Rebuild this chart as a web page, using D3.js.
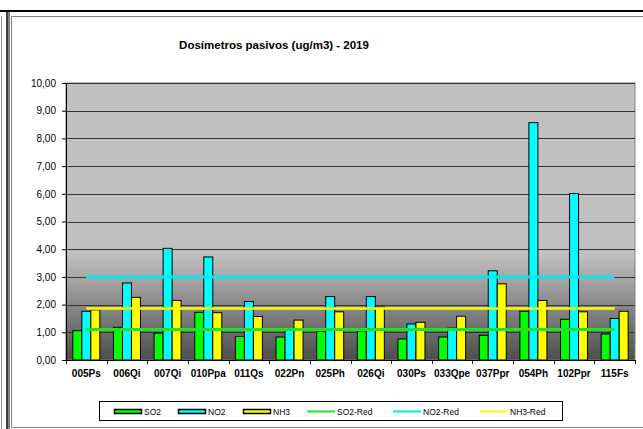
<!DOCTYPE html>
<html>
<head>
<meta charset="utf-8">
<style>
    html, body { margin: 0; background: #fff; overflow: hidden; }
    svg { display: block; font-family: Arial, "Liberation Sans", sans-serif; }
</style>
</head>
<body>
<script src="https://d3js.org/d3.v7.min.js"></script>
<div id="chart"></div>
<script>
    var categories = ["005Ps", "006Qi", "007Qi", "010Ppa", "011Qs", "022Pn", "025Ph", "026Qi", "030Ps", "033Qpe", "037Ppr", "054Ph", "102Ppr", "115Fs"];
    var so2 = [1.06, 1.18, 0.97, 1.72, 0.85, 0.83, 1.04, 1.05, 0.76, 0.83, 0.89, 1.76, 1.47, 0.94];
    var no2 = [1.76, 2.78, 4.03, 3.72, 2.11, 1.11, 2.29, 2.29, 1.30, 1.15, 3.22, 8.57, 6.01, 1.50];
    var nh3 = [1.81, 2.26, 2.15, 1.71, 1.57, 1.44, 1.74, 1.91, 1.36, 1.58, 2.75, 2.15, 1.74, 1.76];
    var so2Red = 1.1;
    var no2Red = 3.0;
    var nh3Red = 1.86;
    var yTicks = [0, 1, 2, 3, 4, 5, 6, 7, 8, 9, 10];
    var title = "Dosímetros pasivos (ug/m3) - 2019";

    var W = 643, H = 429;
    var margin = { top: 83, right: 8, bottom: 69, left: 66 },
        width = W - margin.left - margin.right,
        height = H - margin.top - margin.bottom;

    var svg0 = d3.select("#chart").append("svg")
        .attr("width", W)
        .attr("height", H);

    // outer frames
    svg0.append("line").attr("x1", 0).attr("x2", W).attr("y1", 11).attr("y2", 11)
        .attr("stroke", "#000").attr("stroke-width", 2);
    svg0.append("line").attr("x1", 7).attr("x2", 7).attr("y1", 10).attr("y2", H)
        .attr("stroke", "#000").attr("stroke-width", 1.5);
    svg0.append("line").attr("x1", 9).attr("x2", 9).attr("y1", 10).attr("y2", H)
        .attr("stroke", "#000").attr("stroke-width", 1);
    svg0.append("line").attr("x1", 1.5).attr("x2", 1.5).attr("y1", 16).attr("y2", H)
        .attr("stroke", "#999").attr("stroke-width", 1);
    svg0.append("path")
        .attr("d", "M" + W + ",16.5H11.5V427.5H" + W)
        .attr("fill", "none").attr("stroke", "#808080").attr("stroke-width", 1);

    // title
    svg0.append("text")
        .attr("x", 274).attr("y", 49)
        .attr("text-anchor", "middle")
        .attr("font-size", "11.5px").attr("font-weight", "bold")
        .text(title);

    var svg = svg0.append("g")
        .attr("transform", "translate(" + margin.left + "," + margin.top + ")");

    var defs = svg0.append("defs");
    var grad = defs.append("linearGradient")
        .attr("id", "bg").attr("x1", 0).attr("x2", 0).attr("y1", 0).attr("y2", 1);
    grad.append("stop").attr("offset", "0.62").attr("stop-color", "#c0c0c0");
    grad.append("stop").attr("offset", "1").attr("stop-color", "#4d4d4d");

    var x0 = d3.scaleBand().domain(categories).range([0, width]);
    var series = ["SO2", "NO2", "NH3"];
    var colors = { SO2: "#00ff00", NO2: "#00ffff", NH3: "#ffff00" };
    var values = { SO2: so2, NO2: no2, NH3: nh3 };
    var gap = (x0.bandwidth() - 27) / 2;
    var x1 = d3.scaleBand().domain(series).range([gap, x0.bandwidth() - gap]);

    var y = d3.scaleLinear().domain([0, 10]).range([height, 0]);

    // plot background
    svg.append("rect")
        .attr("x", 0).attr("y", 0)
        .attr("width", width).attr("height", height)
        .attr("fill", "url(#bg)")
        .attr("stroke", "#808080");

    // gridlines
    svg.selectAll(".grid")
        .data(yTicks.slice(1))
        .enter().append("line")
        .attr("x1", 0).attr("x2", width)
        .attr("y1", function (d) { return Math.round(y(d)) + 0.5; })
        .attr("y2", function (d) { return Math.round(y(d)) + 0.5; })
        .attr("stroke", "#333").attr("stroke-width", 1);

    // bars
    var rows = [];
    categories.forEach(function (c, i) {
        series.forEach(function (s) { rows.push({ cat: c, s: s, v: values[s][i] }); });
    });
    svg.selectAll(".bar")
        .data(rows)
        .enter().append("rect")
        .attr("x", function (d) { return x0(d.cat) + x1(d.s); })
        .attr("y", function (d) { return y(d.v); })
        .attr("width", x1.bandwidth())
        .attr("height", function (d) { return height - y(d.v); })
        .attr("fill", function (d) { return colors[d.s]; })
        .attr("stroke", "#000").attr("stroke-width", 1);

    // reference lines
    var refs = [
        { v: so2Red, c: "#22e022", w: 3 },
        { v: no2Red, c: "#00e8f0", w: 3 },
        { v: nh3Red, c: "#ffff00", w: 2.5 }
    ];
    var first = x0(categories[0]) + x0.bandwidth() / 2;
    var last = x0(categories[categories.length - 1]) + x0.bandwidth() / 2;
    svg.selectAll(".ref")
        .data(refs)
        .enter().append("line")
        .attr("x1", first).attr("x2", last)
        .attr("y1", function (d) { return y(d.v); })
        .attr("y2", function (d) { return y(d.v); })
        .attr("stroke", function (d) { return d.c; })
        .attr("stroke-width", function (d) { return d.w; });

    // y axis
    var fmt = d3.format(".2f");
    var yAxis = svg.append("g")
        .call(d3.axisLeft(y).tickValues(yTicks).tickSize(4).tickSizeOuter(0)
            .tickFormat(function (d) { return fmt(d).replace(".", ","); }));
    yAxis.select(".domain").attr("stroke", "#000");
    yAxis.selectAll("text").attr("font-size", "10px").attr("fill", "#000").attr("x", -10)
        .attr("font-family", "Arial, 'Liberation Sans', sans-serif");

    // x axis
    var xAxis = svg.append("g")
        .attr("transform", "translate(0," + height + ")")
        .call(d3.axisBottom(x0).tickSize(0).tickSizeOuter(0));
    xAxis.select(".domain").attr("stroke", "#000");
    xAxis.selectAll("text").attr("font-size", "10px").attr("font-weight", "bold")
        .attr("fill", "#000").attr("dy", "0").attr("y", 17)
        .attr("font-family", "Arial, 'Liberation Sans', sans-serif");
    xAxis.selectAll(".sep")
        .data(d3.range(categories.length + 1))
        .enter().append("line")
        .attr("x1", function (i) { return Math.round(i * x0.step()) + 0.5; })
        .attr("x2", function (i) { return Math.round(i * x0.step()) + 0.5; })
        .attr("y1", 0).attr("y2", 4)
        .attr("stroke", "#000");

    // legend
    var lg = svg0.append("g");
    lg.append("rect")
        .attr("x", 99.5).attr("y", 401.5).attr("width", 463).attr("height", 19)
        .attr("fill", "#fff").attr("stroke", "#000");
    var legendItems = [
        { label: "SO2", c: "#00ff00", type: "bar", x: 114 },
        { label: "NO2", c: "#00ffff", type: "bar", x: 178 },
        { label: "NH3", c: "#ffff00", type: "bar", x: 243 },
        { label: "SO2-Red", c: "#22e022", type: "line", x: 307 },
        { label: "NO2-Red", c: "#00e8f0", type: "line", x: 393 },
        { label: "NH3-Red", c: "#ffff00", type: "line", x: 480 }
    ];
    legendItems.forEach(function (d) {
        if (d.type === "bar") {
            lg.append("rect").attr("x", d.x + 0.5).attr("y", 409.5).attr("width", 27).attr("height", 4)
                .attr("fill", d.c).attr("stroke", "#000").attr("stroke-width", 1.5);
        } else {
            lg.append("line").attr("x1", d.x).attr("x2", d.x + 28).attr("y1", 411.5).attr("y2", 411.5)
                .attr("stroke", d.c).attr("stroke-width", 2);
        }
        lg.append("text").attr("x", d.x + 30).attr("y", 415)
            .attr("font-size", "8.5px").text(d.label);
    });
</script>
</body>
</html>
